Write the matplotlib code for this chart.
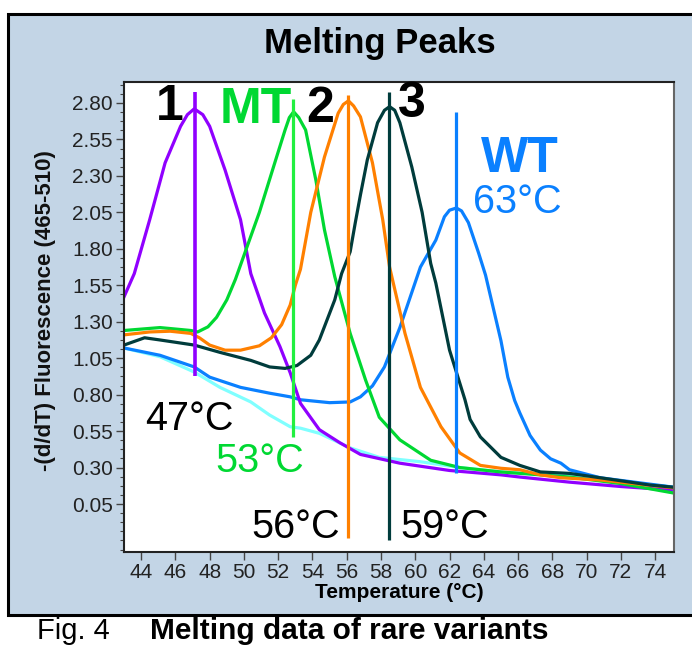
import numpy as np
import matplotlib
matplotlib.use("Agg")
import matplotlib.pyplot as plt
from matplotlib.patches import Rectangle
from matplotlib.ticker import AutoMinorLocator, FormatStrFormatter

plt.rcParams['font.family'] = ['Liberation Sans', 'DejaVu Sans']

# melting curves: temperature (C) and -(d/dT) fluorescence
cyan_t = [43.0, 45.1, 47.1, 48.6, 50.4, 51.5, 52.7, 53.3, 54.4, 56.2, 57.9, 60.3, 62.6, 65.0, 69.0, 75.1]
cyan_f = [1.12, 1.06, 0.955, 0.85, 0.75, 0.66, 0.58, 0.57, 0.535, 0.435, 0.37, 0.34, 0.30, 0.27, 0.245, 0.165]

wt_t = [43.0, 45.1, 47.1, 48.0, 49.8, 51.5, 52.7, 53.3, 55.0, 56.2, 56.8, 57.5, 58.2, 59.1, 60.3,
        61.2, 61.7, 62.0, 62.4, 62.7, 63.1, 63.7, 64.1, 64.4, 64.7, 65.0, 65.4, 65.8, 66.1, 66.7,
        67.3, 67.9, 68.5, 69.0, 70.8, 75.1]
wt_f = [1.12, 1.07, 0.99, 0.92, 0.85, 0.81, 0.785, 0.765, 0.745, 0.75, 0.785, 0.86, 0.99, 1.26, 1.675,
        1.86, 2.02, 2.065, 2.08, 2.06, 1.98, 1.77, 1.62, 1.47, 1.32, 1.17, 0.92, 0.76, 0.675, 0.52,
        0.42, 0.36, 0.33, 0.285, 0.23, 0.165]

v1_t = [43.0, 43.6, 44.5, 45.4, 46.3, 46.7, 47.1, 47.6, 48.0, 48.9, 49.8, 50.4, 51.2, 52.1, 52.7,
        53.3, 54.4, 55.6, 56.8, 59.1, 62.0, 65.0, 66.1, 69.0, 72.0, 75.1]
v1_f = [1.47, 1.63, 2.00, 2.39, 2.64, 2.72, 2.76, 2.72, 2.64, 2.34, 2.00, 1.63, 1.36, 1.13, 0.95,
        0.74, 0.56, 0.47, 0.39, 0.33, 0.28, 0.25, 0.235, 0.20, 0.17, 0.145]

mt_t = [43.0, 45.1, 46.9, 47.3, 47.9, 48.4, 49.0, 49.5, 50.9, 51.8, 52.4, 52.65, 52.9, 53.2, 53.6,
        54.2, 54.7, 55.3, 56.2, 57.1, 57.9, 59.1, 60.9, 62.6, 65.0, 69.0, 72.0, 75.1]
mt_f = [1.24, 1.26, 1.24, 1.23, 1.265, 1.33, 1.45, 1.59, 2.05, 2.39, 2.615, 2.70, 2.74, 2.70, 2.615,
        2.27, 1.93, 1.61, 1.22, 0.90, 0.645, 0.49, 0.35, 0.30, 0.27, 0.235, 0.19, 0.125]

v2_t = [43.0, 44.5, 45.7, 46.9, 47.4, 48.0, 48.9, 49.8, 50.9, 51.6, 52.2, 52.7, 53.0, 53.3, 53.9,
        54.7, 55.5, 55.8, 56.1, 56.4, 56.8, 57.5, 58.1, 58.5, 59.4, 60.3, 61.5, 62.6, 63.8, 65.0,
        66.1, 67.3, 68.5, 70.8, 75.1]
v2_f = [1.21, 1.23, 1.235, 1.22, 1.19, 1.14, 1.105, 1.105, 1.135, 1.19, 1.28, 1.415, 1.55, 1.66, 2.05,
        2.43, 2.73, 2.79, 2.815, 2.78, 2.705, 2.39, 2.0, 1.675, 1.22, 0.85, 0.58, 0.40, 0.315, 0.295,
        0.285, 0.25, 0.23, 0.215, 0.16]

v3_t = [43.0, 44.2, 45.1, 47.1, 48.6, 50.4, 51.5, 52.4, 53.1, 53.9, 54.4, 55.3, 55.7, 56.2, 56.5,
        56.8, 57.2, 57.8, 58.2, 58.5, 58.8, 59.1, 59.8, 60.4, 60.9, 61.2, 62.0, 62.9, 63.2, 63.8,
        65.0, 66.1, 67.3, 69.0, 70.8, 73.7, 75.1]
v3_f = [1.14, 1.19, 1.175, 1.14, 1.09, 1.035, 0.99, 0.98, 1.0, 1.07, 1.175, 1.45, 1.63, 1.78, 1.98,
        2.17, 2.41, 2.665, 2.75, 2.775, 2.75, 2.665, 2.36, 2.05, 1.70, 1.565, 1.105, 0.765, 0.63, 0.51,
        0.37, 0.315, 0.27, 0.26, 0.23, 0.18, 0.165]

# peak marker lines
peak_t = [47.14, 52.87, 56.08, 58.47, 62.38]
peak_lo = [0.93, 0.51, -0.18, -0.20, 0.26]
peak_hi = [2.875, 2.83, 2.855, 2.875, 2.74]

yticks = [0.05, 0.30, 0.55, 0.80, 1.05, 1.30, 1.55, 1.80, 2.05, 2.30, 2.55, 2.80]
xticks = list(range(44, 76, 2))

PURPLE = '#9000ff'
GREEN = '#00d832'
GREEN_LINE = '#22f040'
ORANGE = '#ff8000'
TEAL = '#003c3c'
BLUE = '#0a80ff'
CYAN = '#80ffff'
PANEL = '#c3d5e6'

fig = plt.figure(figsize=(6.92, 6.45), dpi=100)
fig.patch.set_facecolor('white')
panel = Rectangle((8/692, 30/645), 1.0, 601/645, transform=fig.transFigure,
                  facecolor=PANEL, edgecolor='black', lw=2.2, zorder=-5)
fig.patches.append(panel)

ax = fig.add_axes([124/692, 93/645, 550/692, 470/645])
ax.set_zorder(2)
ax.set_facecolor('white')

curves = [(cyan_t, cyan_f, CYAN), (wt_t, wt_f, BLUE), (v1_t, v1_f, PURPLE),
          (mt_t, mt_f, GREEN), (v2_t, v2_f, ORANGE), (v3_t, v3_f, TEAL)]
for t, f, c in curves:
    ax.plot(t, f, color=c, lw=2.3, solid_joinstyle='round')

line_cols = [PURPLE, GREEN_LINE, ORANGE, TEAL, BLUE]
for t, lo, hi, c in zip(peak_t, peak_lo, peak_hi, line_cols):
    ax.vlines(t, lo, hi, colors=c, lw=2.6 if c == PURPLE else 2.3, zorder=4)

ax.set_xlim(43.0, 75.1)
ax.set_ylim(-0.279, 2.944)
ax.set_xticks(xticks)
ax.set_yticks(yticks)
ax.yaxis.set_major_formatter(FormatStrFormatter('%.2f'))
ax.yaxis.set_minor_locator(AutoMinorLocator(4))
ax.tick_params(axis='both', direction='out', length=6, width=1, color='#444',
               labelsize=15, labelcolor='#222', pad=2)
ax.tick_params(axis='y', which='minor', length=3, width=0.8, color='#444')
for s in ax.spines.values():
    s.set_linewidth(1.5)
    s.set_color('#222')
ax.spines['right'].set_color('#666')

ax.set_xlabel('Temperature (°C)', fontsize=15, fontweight='bold', labelpad=1)
fig.text(46/692, 1 - 311/645, '-(d/dT) Fluorescence (465-510)', rotation=90,
         ha='center', va='center', fontsize=16, fontweight='bold', color='#111')
fig.text(380/692, 1 - 44/645, 'Melting Peaks', ha='center', va='center',
         fontsize=25, fontweight='bold')

# labels on the peaks
big = dict(fontsize=36, fontweight='bold', ha='center', va='baseline')
ax.text(45.69, 2.683, '1', color='black', **big)
ax.text(50.68, 2.663, 'MT', color=GREEN, **big)
ax.text(54.44, 2.67, '2', color='black', **big)
ax.text(59.81, 2.704, '3', color='black', **big)
ax.text(66.12, 2.327, 'WT', color=BLUE, **big)

tm = dict(fontsize=28.5, ha='center', va='baseline')
ax.text(65.94, 2.046, '63°C', color=BLUE, **tm)
ax.text(46.79, 0.557, '47°C', color='black', **tm)
ax.text(50.94, 0.269, '53°C', color=GREEN, **tm)
ax.text(53.04, -0.184, '56°C', color='black', **tm)
ax.text(61.74, -0.184, '59°C', color='black', **tm)

fig.text(37/692, 6/645, 'Fig. 4', fontsize=21, ha='left', va='baseline')
fig.text(150/692, 6/645, 'Melting data of rare variants', fontsize=21.5,
         fontweight='bold', ha='left', va='baseline')

fig.savefig('out.png', dpi=100)
